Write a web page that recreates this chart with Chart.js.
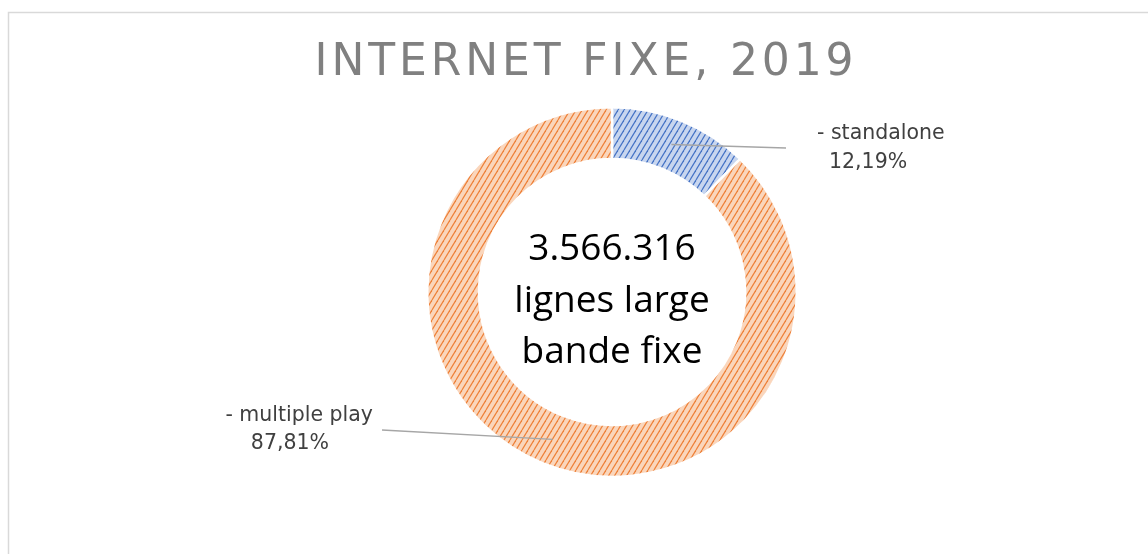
<!DOCTYPE html>
<html>
<head>
<meta charset="utf-8">
<script src="https://cdn.jsdelivr.net/npm/chart.js@4.4.0/dist/chart.umd.min.js"></script>
<style>
  html, body { margin: 0; padding: 0; background: #fff; }
  #wrap { width: 1148px; height: 554px; position: relative; }
</style>
</head>
<body>
<div id="wrap"><canvas id="DonutChart" width="1148" height="554"></canvas></div>
<script>
var chartTitle = 'INTERNET FIXE, 2019';
var categories = ['- standalone', '- multiple play'];
var shares = [12.19, 87.81];
var shareLabels = ['12,19%', '87,81%'];
var centerLines = ['3.566.316', 'lignes large', 'bande fixe'];

// hatched fill like the office "dark upward diagonal" pattern
function makeHatch(base, stripe) {
  var c = document.createElement('canvas');
  c.width = 6; c.height = 10;
  var x = c.getContext('2d');
  x.fillStyle = base;
  x.fillRect(0, 0, 6, 10);
  x.strokeStyle = stripe;
  x.lineWidth = 1.2;
  [-6, 0, 6].forEach(function(o){
    x.beginPath();
    x.moveTo(o, 10);
    x.lineTo(o + 6, 0);
    x.stroke();
  });
  return x.createPattern(c, 'repeat');
}

var ctx = document.getElementById('DonutChart').getContext('2d');

var decorPlugin = {
  id: 'decor',
  beforeDraw: function(chart) {
    var c = chart.ctx;
    c.save();
    c.strokeStyle = '#d9d9d9';
    c.lineWidth = 1.5;
    c.strokeRect(8.5, 12.5, 1160, 600);
    // title
    c.fillStyle = '#808080';
    c.font = '44px "DejaVu Sans"';
    c.letterSpacing = '3.9px';
    c.textAlign = 'center';
    c.textBaseline = 'middle';
    c.fillText(chartTitle, 586, 64);
    c.letterSpacing = '0px';
    c.restore();
  },
  afterDraw: function(chart) {
    var c = chart.ctx;
    var meta = chart.getDatasetMeta(0);
    // label anchors: where the leader line ends, and text placement
    var anchors = [
      { x: 786, y: 148, tx: 817, align: 'left', px: 829 },
      { x: 382, y: 430, tx: 373, align: 'right', px: 329 }
    ];
    c.save();
    c.letterSpacing = '0px';
    meta.data.forEach(function(arc, i) {
      var p = arc.getProps(['x', 'y', 'startAngle', 'endAngle', 'innerRadius', 'outerRadius'], true);
      var a = (p.startAngle + p.endAngle) / 2;
      var r = (p.innerRadius + p.outerRadius) / 2;
      var sx = p.x + Math.cos(a) * r;
      var sy = p.y + Math.sin(a) * r;
      var an = anchors[i];
      c.strokeStyle = '#a6a6a6';
      c.lineWidth = 1.5;
      c.beginPath();
      c.moveTo(sx, sy);
      c.lineTo(an.x, an.y);
      c.stroke();
      c.fillStyle = '#404040';
      c.font = '20.5px "DejaVu Sans"';
      c.textBaseline = 'middle';
      c.textAlign = an.align;
      c.fillText(categories[i], an.tx, an.y - 14);
      if (an.align === 'left') {
        c.fillText(shareLabels[i], an.px, an.y + 15);
      } else {
        c.fillText(shareLabels[i], an.px, an.y + 14);
      }
    });
    // centre text
    var cx = meta.data[0].x, cy = meta.data[0].y;
    c.fillStyle = '#000';
    c.font = '37px "Open Sans"';
    c.textAlign = 'center';
    c.textBaseline = 'alphabetic';
    centerLines.forEach(function(t, k) {
      c.fillText(t, cx, cy - 32 + k * 51.5);
    });
    c.restore();
  }
};

var myDonut = new Chart(ctx, {
  type: 'doughnut',
  data: {
    labels: categories,
    datasets: [{
      data: shares,
      backgroundColor: [makeHatch('#c8d6ef', '#4472c4'), makeHatch('#fad6bc', '#ee8038')],
      borderColor: '#ffffff',
      borderWidth: 2.5
    }]
  },
  options: {
    responsive: false,
    animation: false,
    cutout: '72%',
    layout: { padding: { top: 106, bottom: 76, left: 100, right: 24 } },
    plugins: {
      legend: { display: false },
      tooltip: { enabled: false }
    }
  },
  plugins: [decorPlugin]
});
</script>
</body>
</html>
